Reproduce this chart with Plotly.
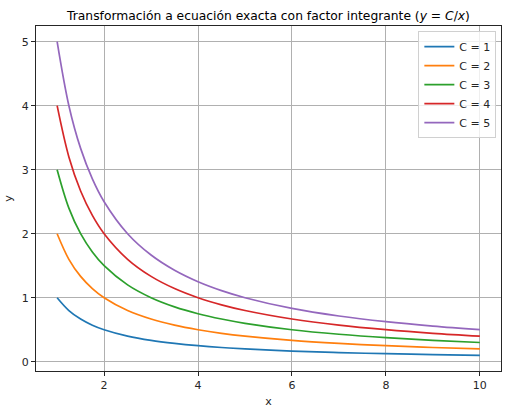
import plotly.graph_objects as go

x_vals = [1, 1.25, 1.5, 1.75, 2, 2.5, 3, 3.5, 4, 4.5, 5, 6, 7, 8, 9, 10]
y_c1 = [1.0, 0.8, 0.667, 0.571, 0.5, 0.4, 0.333, 0.286, 0.25, 0.222, 0.2, 0.167, 0.143, 0.125, 0.111, 0.1]
y_c2 = [2.0, 1.6, 1.333, 1.143, 1.0, 0.8, 0.667, 0.571, 0.5, 0.444, 0.4, 0.333, 0.286, 0.25, 0.222, 0.2]
y_c3 = [3.0, 2.4, 2.0, 1.714, 1.5, 1.2, 1.0, 0.857, 0.75, 0.667, 0.6, 0.5, 0.429, 0.375, 0.333, 0.3]
y_c4 = [4.0, 3.2, 2.667, 2.286, 2.0, 1.6, 1.333, 1.143, 1.0, 0.889, 0.8, 0.667, 0.571, 0.5, 0.444, 0.4]
y_c5 = [5.0, 4.0, 3.333, 2.857, 2.5, 2.0, 1.667, 1.429, 1.25, 1.111, 1.0, 0.833, 0.714, 0.625, 0.556, 0.5]
series_names = ["C = 1", "C = 2", "C = 3", "C = 4", "C = 5"]
series_values = [y_c1, y_c2, y_c3, y_c4, y_c5]
colors = ["#1f77b4", "#ff7f0e", "#2ca02c", "#d62728", "#9467bd"]
x_ticks = [2, 4, 6, 8, 10]
y_ticks = [0, 1, 2, 3, 4, 5]

fig = go.Figure()
for name, ys, col in zip(series_names, series_values, colors):
    fig.add_trace(go.Scatter(x=x_vals, y=ys, mode="lines", name=name,
                             line=dict(color=col, width=1.7, shape="spline", smoothing=1.0)))

font = "DejaVu Sans"
fig.update_layout(
    width=510, height=414,
    margin=dict(l=36, r=8, t=26, b=40),
    paper_bgcolor="white", plot_bgcolor="white",
    font=dict(family=font, size=11, color="#262626"),
    title=dict(text="Transformación a ecuación exacta con factor integrante (<i>y</i> = <i>C</i>/<i>x</i>)",
               x=0.5, xref="paper", xanchor="center", y=1 - 16/414, yanchor="middle",
               font=dict(family=font, size=12.3, color="black")),
    showlegend=True,
    legend=dict(x=0.99, y=0.985, xanchor="right", yanchor="top",
                bgcolor="rgba(255,255,255,0.8)", bordercolor="#d0d0d0", borderwidth=1,
                font=dict(family=font, size=11, color="#262626"),
                tracegroupgap=0, itemwidth=30),
    xaxis=dict(range=[0.55, 10.45], tickvals=x_ticks, ticks="outside", ticklen=4,
               tickcolor="#262626", showline=True, linecolor="#262626", linewidth=1,
               mirror=True, showgrid=True, gridcolor="#b0b0b0", gridwidth=0.8,
               zeroline=False, title=dict(text="x", standoff=6, font=dict(size=11))),
    yaxis=dict(range=[-0.145, 5.245], tickvals=y_ticks, ticks="outside", ticklen=4,
               tickcolor="#262626", showline=True, linecolor="#262626", linewidth=1,
               mirror=True, showgrid=True, gridcolor="#b0b0b0", gridwidth=0.8,
               zeroline=False, title=dict(text="y", standoff=6, font=dict(size=11))),
)

fig.write_html("out.html")
